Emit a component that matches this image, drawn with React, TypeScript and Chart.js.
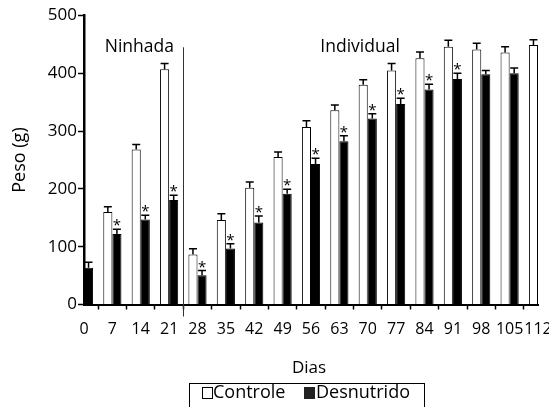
import { useEffect, useRef } from 'react';
import { Chart, registerables } from 'chart.js';

Chart.register(...registerables);

const days = ['0', '7', '14', '21', '28', '35', '42', '49', '56', '63', '70', '77', '84', '91', '98', '105', '112'];
const controle = [null, 160, 268, 407, 86.5, 146, 202, 255, 307, 336, 380, 405, 426, 446, 441, 436, 449];
const controleErr = [null, 9, 9, 10, 10, 11, 10, 9, 11, 9, 9, 12, 11, 11, 11, 10, 9];
const desnutrido = [63.5, 122, 147, 181, 50.7, 97, 142, 191.5, 243, 282.6, 322, 347, 372, 390, 398.5, 400, null];
const desnutridoErr = [9.5, 8, 7.5, 8, 8, 8, 11, 8, 10, 9.5, 8, 10, 9, 10, 6.5, 9, null];
const significant = [false, true, true, true, true, true, true, true, true, true, true, true, true, true, false, false, false];
const yTicks = [0, 100, 200, 300, 400, 500];
const seriesNames = ['Controle', 'Desnutrido'];
const phaseLabels = ['Ninhada', 'Individual'];
const xTitle = 'Dias';
const yTitle = 'Peso (g)';

const FONT = "'Open Sans', sans-serif";

const overlay = {
  id: 'overlay',
  afterDatasetsDraw(chart: any) {
    const ctx = chart.ctx;
    const xs = chart.scales.x;
    const ys = chart.scales.y;
    const errs = [controleErr, desnutridoErr];
    ctx.save();
    ctx.strokeStyle = '#000';
    ctx.fillStyle = '#000';
    for (let di = 0; di < 2; di++) {
      const meta = chart.getDatasetMeta(di);
      const vals = chart.data.datasets[di].data;
      meta.data.forEach((bar: any, i: number) => {
        const v = vals[i];
        const e = errs[di][i];
        if (v == null || e == null) return;
        const base = ys.getPixelForValue(v);
        const top = ys.getPixelForValue(v + e);
        ctx.lineWidth = 1.5;
        ctx.beginPath();
        ctx.moveTo(bar.x, base);
        ctx.lineTo(bar.x, top);
        ctx.moveTo(bar.x - 4, top);
        ctx.lineTo(bar.x + 4, top);
        ctx.stroke();
        if (di === 1 && significant[i]) {
          ctx.font = `15px ${FONT}`;
          ctx.textAlign = 'center';
          ctx.textBaseline = 'alphabetic';
          ctx.fillText('*', bar.x, top + 1);
        }
      });
    }
    // divider between phases
    const dx = Math.round((xs.getPixelForValue(3) + xs.getPixelForValue(4)) / 2) + 0.5;
    ctx.lineWidth = 1;
    ctx.strokeStyle = '#333';
    ctx.beginPath();
    ctx.moveTo(dx, ys.getPixelForValue(445));
    ctx.lineTo(dx, ys.bottom + 12);
    ctx.stroke();

    // phase labels
    ctx.fillStyle = '#000';
    ctx.font = `17.5px ${FONT}`;
    ctx.textAlign = 'center';
    ctx.textBaseline = 'alphabetic';
    const py = ys.getPixelForValue(437);
    ctx.fillText(phaseLabels[0], xs.getPixelForValue(1.95), py);
    ctx.fillText(phaseLabels[1], xs.getPixelForValue(9.73), py);

    // axis titles
    ctx.font = `17px ${FONT}`;
    ctx.fillText(xTitle, (chart.chartArea.left + chart.chartArea.right) / 2 - 2, 373);
    ctx.save();
    ctx.translate(25, (chart.chartArea.top + chart.chartArea.bottom) / 2);
    ctx.rotate(-Math.PI / 2);
    ctx.font = `18px ${FONT}`;
    ctx.fillText(yTitle, 0, 0);
    ctx.restore();

    // legend
    ctx.lineWidth = 1;
    ctx.strokeStyle = '#000';
    ctx.strokeRect(189.5, 383.5, 235, 30);
    ctx.font = `18px ${FONT}`;
    ctx.textAlign = 'left';
    ctx.fillStyle = '#fff';
    ctx.fillRect(202.5, 387.5, 10, 11);
    ctx.strokeRect(202.5, 387.5, 10, 11);
    ctx.fillStyle = '#000';
    ctx.fillText(seriesNames[0], 213, 398);
    ctx.fillStyle = '#222';
    ctx.fillRect(304, 387, 11, 12);
    ctx.fillStyle = '#000';
    ctx.fillText(seriesNames[1], 316, 398);
    ctx.restore();
  },
};

export default function App() {
  const ref = useRef<HTMLCanvasElement>(null);
  useEffect(() => {
    if (!ref.current) return;
    const chart = new Chart(ref.current, {
      type: 'bar',
      data: {
        labels: days,
        datasets: [
          {
            label: seriesNames[0],
            data: controle as any,
            backgroundColor: '#fff',
            borderColor: '#000',
            borderWidth: 1,
            categoryPercentage: 0.64,
            barPercentage: 1,
          },
          {
            label: seriesNames[1],
            data: desnutrido as any,
            backgroundColor: '#000',
            borderColor: '#000',
            borderWidth: 1,
            categoryPercentage: 0.64,
            barPercentage: 1,
          },
        ],
      },
      options: {
        responsive: false,
        animation: false,
        devicePixelRatio: 1,
        layout: { padding: { top: 15.5, left: 0, right: 11, bottom: 0 } },
        plugins: { legend: { display: false }, tooltip: { enabled: false } },
        scales: {
          x: {
            offset: false,
            grid: { display: true, drawOnChartArea: false, drawTicks: true, tickLength: 5, tickColor: '#000', tickWidth: 1.5 },
            border: { display: true, color: '#000', width: 2 },
            ticks: { color: '#000', font: { family: FONT, size: 16 }, padding: 10, maxRotation: 0, autoSkip: false },
            afterFit: (s: any) => {
              s.height = 102.5;
              s.paddingLeft = 0;
              s.paddingRight = 11;
            },
          },
          y: {
            min: 0,
            max: 500,
            grid: { display: true, drawOnChartArea: false, drawTicks: true, tickLength: 6, tickColor: '#000', tickWidth: 1.5 },
            border: { display: true, color: '#000', width: 2.5 },
            ticks: { color: '#000', font: { family: FONT, size: 17 }, padding: 1 },
            afterBuildTicks: (s: any) => {
              s.ticks = yTicks.map((v) => ({ value: v }));
            },
            afterFit: (s: any) => {
              s.width = 84;
              s.paddingTop = 0;
              s.paddingBottom = 0;
            },
          },
        },
      },
      plugins: [overlay],
    });
    return () => chart.destroy();
  }, []);
  return (
    <div style={{ position: 'fixed', left: 0, top: 0, width: 549, height: 407, background: '#fff' }}>
      <canvas ref={ref} width={549} height={407} style={{ display: 'block' }} />
    </div>
  );
}
